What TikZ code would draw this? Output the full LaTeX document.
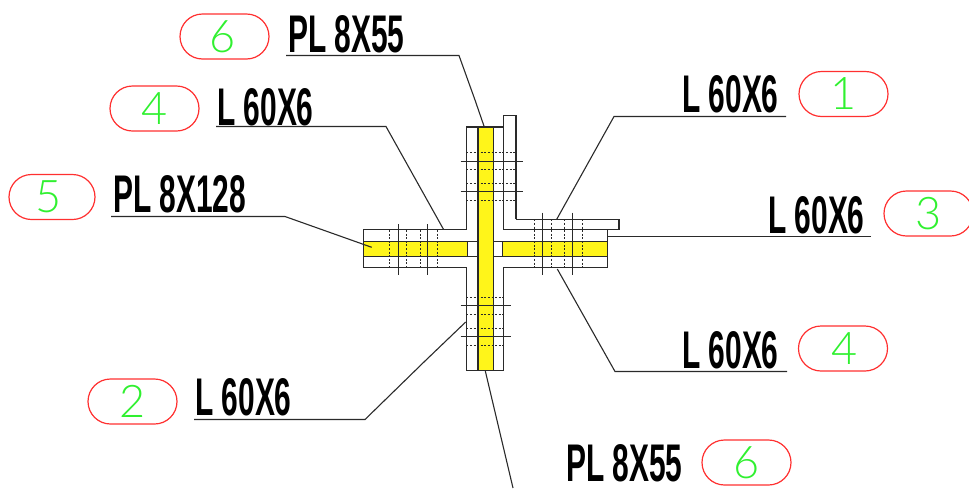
\documentclass[tikz,border=0pt]{standalone}
\usepackage{fontspec}
\setmainfont{Liberation Sans}
\newfontfamily\thinfont{Lato Light}
\usetikzlibrary{shapes.misc}
\definecolor{plate}{HTML}{FFF51A}
\definecolor{tagred}{HTML}{FF3030}
\definecolor{numgreen}{HTML}{30F030}
\definecolor{ink}{HTML}{2A2A2A}
\tikzset{
  x=1pt,y=-1pt,
  part/.style={draw=ink,line width=1.5pt},
  bolt/.style={draw=ink,line width=1.4pt},
  hole/.style={draw=ink,line width=1.1pt,dash pattern=on 2pt off 1.6pt},
  leader/.style={draw=ink,line width=1.1pt},
  txt/.style={font=\fontsize{53}{53}\selectfont\bfseries,transform shape,xscale=.565,anchor=base west,inner sep=0pt,text=black},
  tag/.style={rounded rectangle,draw=tagred,line width=1.2pt,minimum width=89pt,minimum height=45pt,inner sep=0pt,text=numgreen,font=\fontsize{45}{45}\selectfont\thinfont},
}
\begin{document}
\begin{tikzpicture}
\useasboundingbox (0,0) rectangle (969,488);
% plates
\fill[plate] (478,127) rectangle (493.3,370.7);
\fill[plate] (363.7,241.7) rectangle (467,256.7);
\fill[plate] (502.7,241.7) rectangle (607.3,256.7);
% outlines
\draw[part] (516,219.3) -- (516,115.3) -- (503.3,115.3) -- (503.3,229.7) -- (607.3,229.7) -- (607.3,267.7) -- (503.3,267.7) -- (503.3,370.7) -- (466.3,370.7) -- (466.3,267.7) -- (363.7,267.7) -- (363.7,229.7) -- (466.3,229.7) -- (466.3,127) -- (503.3,127);
\draw[part] (516,219.3) -- (619,219.3) -- (619,229.7) -- (607.3,229.7);
\draw[part] (478,127) -- (478,370.7);
\draw[part] (493.3,127) -- (493.3,370.7);
\draw[part] (363.7,241.7) -- (478,241.7) (493.3,241.7) -- (607.3,241.7);
\draw[part] (363.7,256.7) -- (478,256.7) (493.3,256.7) -- (607.3,256.7);
\draw[part] (467.5,241.7) -- (467.5,256.7) (502.7,241.7) -- (502.7,256.7);
% bolts
\foreach \y in {152.5,169.5,183.5,200.5} \draw[hole] (466.3,\y) -- (516,\y);
\foreach \y in {161.5,191.5} \draw[bolt] (460.7,\y) -- (523,\y);
\foreach \y in {297.5,314.5,328.5,345.5} \draw[hole] (466.3,\y) -- (503.3,\y);
\foreach \y in {305.5,336.5} \draw[bolt] (460.7,\y) -- (510.7,\y);
\foreach \x in {389.5,406.5,420.5,437.5} \draw[hole] (\x,230) -- (\x,268);
\foreach \x in {398.5,427.5} \draw[bolt] (\x,224.3) -- (\x,275);
\foreach \x in {534.5,551.5,564.5,582.5} \draw[hole] (\x,219.3) -- (\x,268);
\foreach \x in {542.5,572.5} \draw[bolt] (\x,212.7) -- (\x,275);
% labels
\node[txt] (t6a) at (288,52) {PL 8X55};
\node[txt] (t4a) at (217,125) {L 60X6};
\node[txt] (t5) at (113,212) {PL 8X128};
\node[txt] (t1) at (682,112) {L 60X6};
\node[txt] (t3) at (768,233) {L 60X6};
\node[txt] (t4b) at (682,368) {L 60X6};
\node[txt] (t2) at (195,415) {L 60X6};
\node[txt] (t6b) at (566,481) {PL 8X55};
% tags
\node[tag] (n6a) at (224.5,36.5) {\kern-4pt 6};
\node[tag] (n4a) at (154.5,108.5) {4};
\node[tag,minimum width=86pt] (n5) at (52,197) {\kern-6pt 5};
\node[tag] (n1) at (843.5,94) {1};
\node[tag] (n3) at (928.5,213.5) {3};
\node[tag] (n4b) at (843,348.5) {\kern3pt 4};
\node[tag] (n2) at (132.5,401.5) {2};
\node[tag] (n6b) at (746.5,462.5) {6};
% leaders
\coordinate (a1) at (786,116.5); \coordinate (b1) at (614,116.5); \coordinate (c1) at (556.7,219.3);
\draw[leader] (a1) -- (b1) -- (c1);
\coordinate (a2) at (216,126.5); \coordinate (b2) at (386,126.5); \coordinate (c2) at (443.7,229.7);
\draw[leader] (a2) -- (b2) -- (c2);
\coordinate (a3) at (286,55.5); \coordinate (b3) at (459,55.5); \coordinate (d3) at (475,100); \coordinate (c3) at (484.3,127);
\draw[leader] (a3) -- (b3) -- (d3) -- (c3);
\coordinate (a4) at (111,216.5); \coordinate (b4) at (285,216.5); \coordinate (c4) at (371.7,247.3);
\draw[leader] (a4) -- (b4) -- (c4);
\coordinate (a5) at (871,236.5); \coordinate (c5) at (607.7,236.5);
\draw[leader] (a5) -- (c5);
\coordinate (a6) at (787,371.5); \coordinate (b6) at (615,371.5); \coordinate (c6) at (557.3,269);
\draw[leader] (a6) -- (b6) -- (c6);
\coordinate (a7) at (194,419.5); \coordinate (b7) at (365,419.5); \coordinate (d7) at (425,361); \coordinate (c7) at (465.7,322);
\draw[leader] (a7) -- (b7) -- (d7) -- (c7);
\coordinate (a8) at (485.3,371); \coordinate (c8) at (513,488);
\draw[leader] (a8) -- (c8);
\end{tikzpicture}
\end{document}
